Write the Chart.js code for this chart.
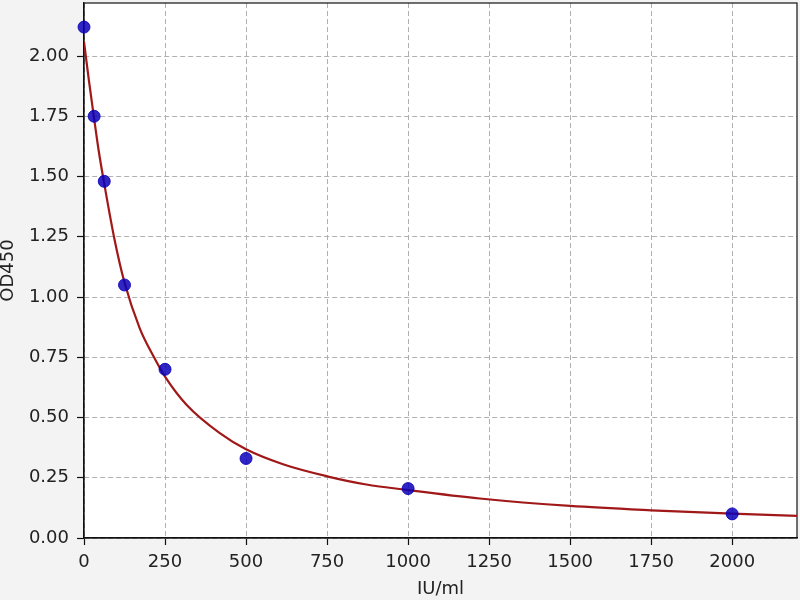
<!DOCTYPE html>
<html>
<head>
<meta charset="utf-8">
<script src="https://cdn.jsdelivr.net/npm/chart.js@4"></script>
<style>
  body { margin: 0; background: #f3f3f3; }
  canvas { display: block; }
</style>
</head>
<body>
<canvas id="curveChart" width="800" height="600"></canvas>
<script>
// Points de mesure (standards)
const concentrations = [0, 31.25, 62.5, 125, 250, 500, 1000, 2000];
const odValues = [2.12, 1.75, 1.48, 1.05, 0.70, 0.33, 0.205, 0.10];

// Courbe ajustée
const fitX = [0, 15, 31.25, 45, 62.5, 94, 125, 172, 214, 250, 317, 419, 500, 614, 750, 871, 1000, 1221, 1500, 1750, 2000, 2200];
const fitY = [2.06, 1.90, 1.74, 1.61, 1.47, 1.24, 1.06, 0.87, 0.755, 0.67, 0.552, 0.435, 0.368, 0.306, 0.256, 0.222, 0.199, 0.164, 0.133, 0.115, 0.101, 0.092];

// Graduations
const xTicks = [0, 250, 500, 750, 1000, 1250, 1500, 1750, 2000];
const yTicks = [0, 0.25, 0.5, 0.75, 1.0, 1.25, 1.5, 1.75, 2.0];

Chart.defaults.font.family = "'DejaVu Sans', sans-serif";
Chart.defaults.color = '#222';

// Fond blanc + cadre complet autour de la zone du graphique
const framePlugin = {
    id: 'frame',
    beforeDraw(chart) {
        const { ctx, chartArea: a } = chart;
        ctx.save();
        ctx.fillStyle = '#ffffff';
        ctx.fillRect(a.left, a.top, a.right - a.left, a.bottom - a.top);
        ctx.restore();
    },
    beforeDatasetsDraw(chart) {
        const { ctx, chartArea: a } = chart;
        ctx.save();
        ctx.strokeStyle = '#111';
        ctx.lineWidth = 1.2;
        ctx.strokeRect(a.left, a.top, a.right - a.left, a.bottom - a.top);
        ctx.restore();
    }
};

const ctx = document.getElementById('curveChart').getContext('2d');

new Chart(ctx, {
    type: 'scatter',
    data: {
        datasets: [
            {
                label: 'Standards',
                data: concentrations.map((x, i) => ({ x: x, y: odValues[i] })),
                backgroundColor: 'rgba(10, 0, 185, 0.85)',
                borderColor: 'rgba(10, 0, 185, 0.85)',
                pointRadius: 6,
                clip: false
            },
            {
                label: 'Fit',
                data: fitX.map((x, i) => ({ x: x, y: fitY[i] })),
                showLine: true,
                borderColor: '#a01818',
                borderWidth: 2.2,
                pointRadius: 0,
                cubicInterpolationMode: 'monotone'
            }
        ]
    },
    options: {
        responsive: false,
        devicePixelRatio: 1,
        animation: false,
        layout: {
            autoPadding: false,
            padding: { top: 3, right: 3, left: 0, bottom: 0 }
        },
        plugins: {
            legend: { display: false },
            tooltip: { enabled: false }
        },
        scales: {
            x: {
                type: 'linear',
                min: 0,
                max: 2200,
                afterBuildTicks: (s) => { s.ticks = xTicks.map(v => ({ value: v })); },
                afterFit: (s) => { s.height = 62; s.paddingLeft = 0; s.paddingRight = 0; },
                grid: {
                    color: '#b0b0b0',
                    tickColor: '#111',
                    tickLength: 7,
                    tickWidth: 1.2
                },
                border: { color: '#111', width: 1.2, dash: [5, 3] },
                ticks: {
                    font: { size: 18 },
                    padding: 7,
                    maxRotation: 0,
                    callback: (v) => String(v)
                },
                title: {
                    display: true,
                    text: 'IU/ml',
                    font: { size: 18 },
                    padding: { top: 0, bottom: 0 }
                }
            },
            y: {
                type: 'linear',
                min: 0,
                max: 2.22,
                afterBuildTicks: (s) => { s.ticks = yTicks.map(v => ({ value: v })); },
                afterFit: (s) => { s.width = 84; s.paddingTop = 0; s.paddingBottom = 0; },
                grid: {
                    color: '#b0b0b0',
                    tickColor: '#111',
                    tickLength: 7,
                    tickWidth: 1.2
                },
                border: { color: '#111', width: 1.2, dash: [5, 3] },
                ticks: {
                    font: { size: 18 },
                    padding: 8,
                    callback: (v) => Number(v).toFixed(2)
                },
                title: {
                    display: true,
                    text: 'OD450',
                    font: { size: 18, lineHeight: 1 },
                    padding: { top: -1, bottom: 0 }
                }
            }
        }
    },
    plugins: [framePlugin]
});
</script>
</body>
</html>
